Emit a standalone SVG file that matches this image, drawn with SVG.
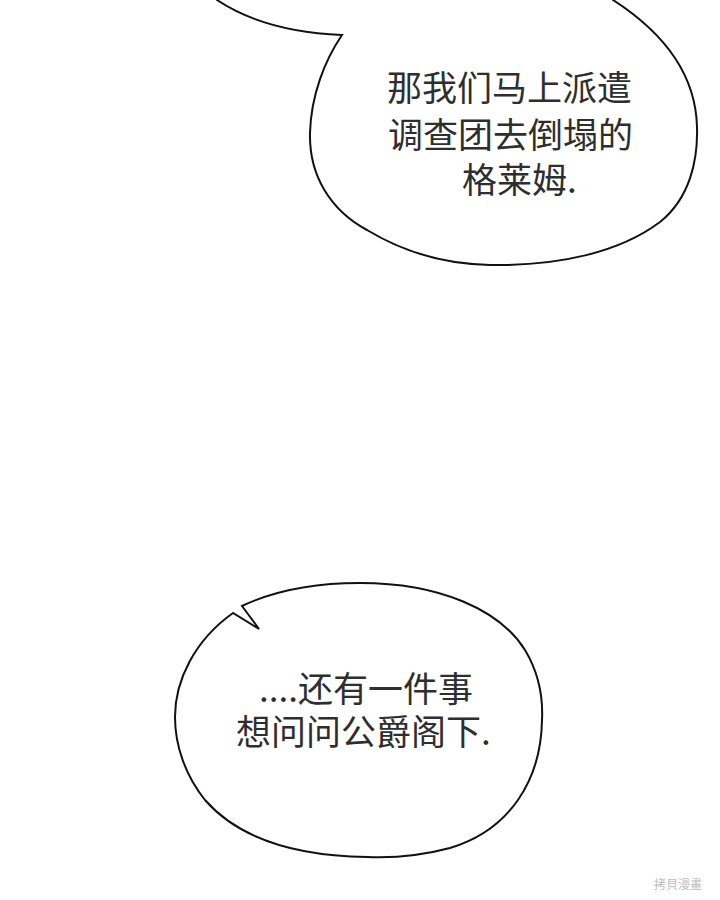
<svg xmlns="http://www.w3.org/2000/svg" width="720" height="900" viewBox="0 0 720 900">
  <style>
    .bubble { fill: #ffffff; stroke: #111111; stroke-width: 2; stroke-linejoin: miter; }
    .txt { font-family: "Noto Sans CJK SC", "Noto Sans", sans-serif; font-size: 35px; fill: #2e2e2e; }
    .wm { font-family: "Noto Sans CJK TC", "Noto Sans", sans-serif; font-size: 12px; fill: #bdbdbd; }
  </style>
  <rect x="0" y="0" width="720" height="900" fill="#ffffff"/>
  <g id="bubble-top">
    <path class="bubble" d="M217,0 C250,22 295,33 342,35 C325,60 311,95 310,133 C309,175 330,210 367,230 C400,250 440,264 490,265 C560,266 620,252 660,222 C690,198 698,160 697,127 C696,85 675,40 613,0 L613,-6 L217,-6 Z"/>
    <text class="txt" x="387" y="101">那我们马上派遣</text>
    <text class="txt" x="388" y="148">调查团去倒塌的</text>
    <text class="txt" x="462" y="193">格莱姆.</text>
  </g>
  <g id="bubble-bottom">
    <path class="bubble" d="M242,606 C280,588 320,583 360,583 C440,583 500,610 525,650 C540,675 543,700 542,720 C541,780 510,830 450,848 C420,856 390,858 367,857 C300,856 240,840 205,800 C185,775 175,745 175,717 C175,680 195,640 233,613 L259,629 Z"/>
    <text class="txt" x="259" y="702">....还有一件事</text>
    <text class="txt" x="236" y="745">想问问公爵阁下.</text>
  </g>
  <g id="watermark">
    <text class="wm" x="654" y="889">拷貝漫畫</text>
  </g>
</svg>
